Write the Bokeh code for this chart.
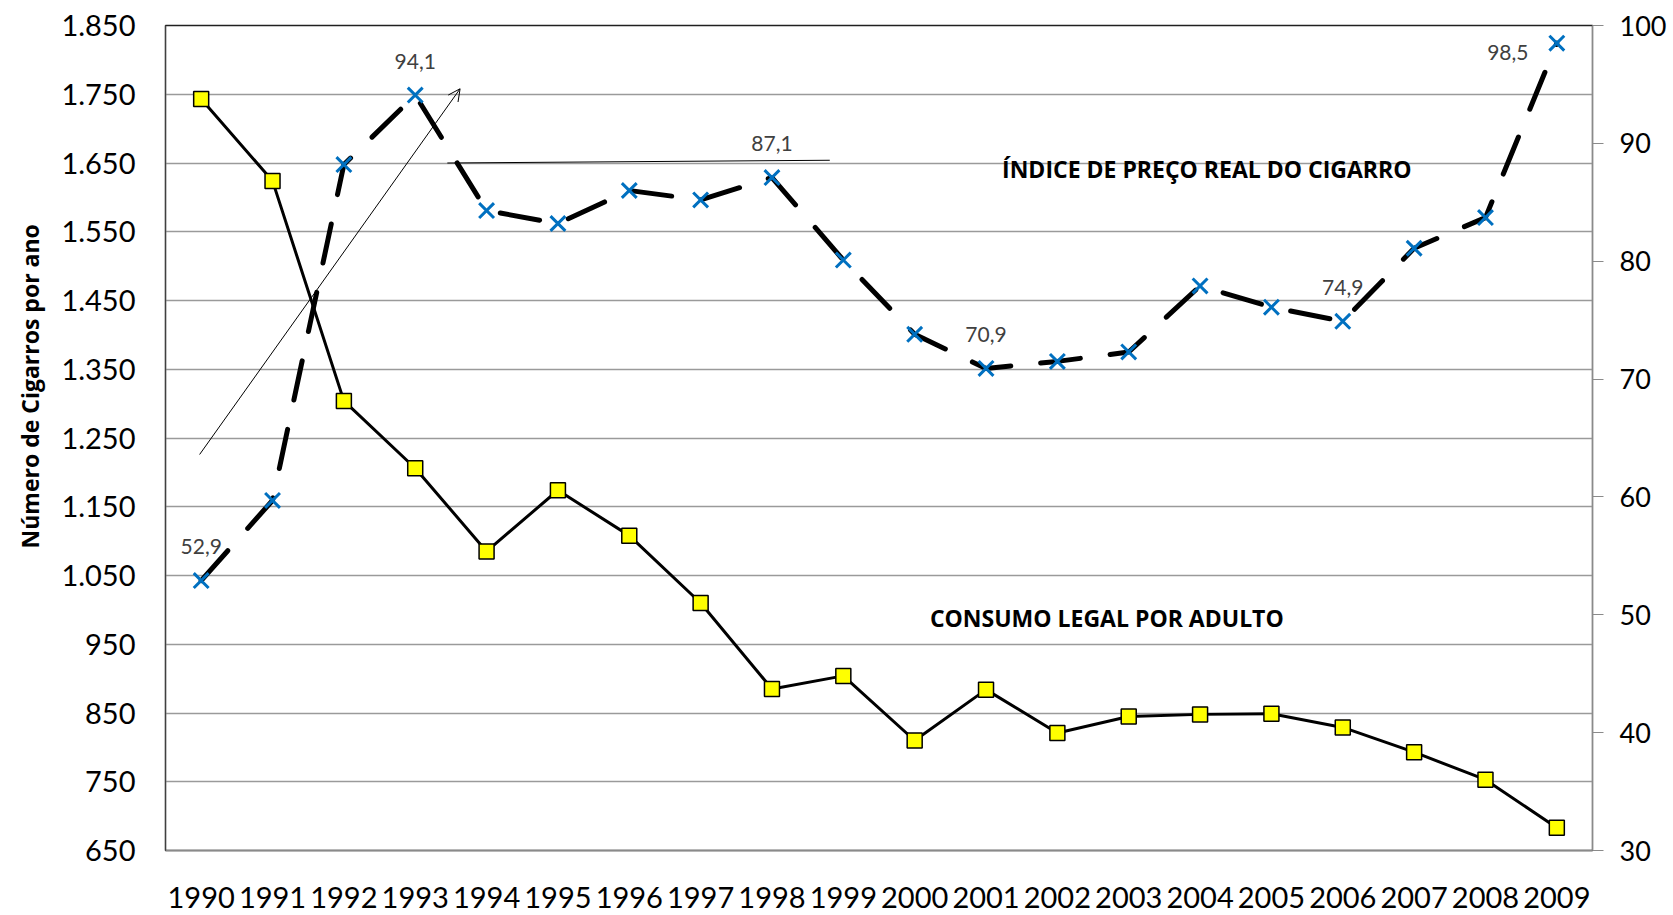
from bokeh.plotting import figure
from bokeh.models import Range1d, LinearAxis, FixedTicker, ColumnDataSource, Label, Arrow, OpenHead, Title
from bokeh.core.properties import value
from bokeh.embed import file_html
from bokeh.resources import INLINE

# ---------------- data ----------------
years = ["1990", "1991", "1992", "1993", "1994", "1995", "1996", "1997", "1998", "1999",
         "2000", "2001", "2002", "2003", "2004", "2005", "2006", "2007", "2008", "2009"]
consumo = [1743, 1624, 1304, 1206, 1085, 1174, 1108, 1010, 885, 904,
           810, 884, 821, 845, 848, 849, 829, 793, 753, 683]
preco = [52.9, 59.7, 88.2, 94.1, 84.3, 83.2, 86.0, 85.2, 87.1, 80.1,
         73.8, 70.9, 71.5, 72.3, 77.9, 76.1, 74.9, 81.1, 83.7, 98.5]
left_ticks = [650, 750, 850, 950, 1050, 1150, 1250, 1350, 1450, 1550, 1650, 1750, 1850]
left_tick_labels = ["650", "750", "850", "950", "1.050", "1.150", "1.250", "1.350",
                    "1.450", "1.550", "1.650", "1.750", "1.850"]
right_ticks = [30, 40, 50, 60, 70, 80, 90, 100]
labelled_years = ["1990", "1993", "1998", "2001", "2006", "2009"]
y_title = "Número de Cigarros por ano"
label_preco = "ÍNDICE DE PREÇO REAL DO CIGARRO"
label_consumo = "CONSUMO LEGAL POR ADULTO"

# ---------------- figure ----------------
xs = [i + 0.5 for i in range(len(years))]

p = figure(width=1673, height=915, output_backend="svg", toolbar_location=None,
           x_range=Range1d(0, len(years)), y_range=Range1d(650, 1850),
           min_border_left=165, min_border_right=81, min_border_top=25, min_border_bottom=65,
           background_fill_color="white", border_fill_color="white")
p.extra_y_ranges = {"price": Range1d(30, 100)}
p.outline_line_color = "#202020"
p.outline_line_width = 1.3

TICK_FONT = "Lato"

# x axis
xa = p.xaxis[0]
xa.ticker = FixedTicker(ticks=xs)
xa.major_label_overrides = {x: y for x, y in zip(xs, years)}
xa.major_tick_line_color = None
xa.minor_tick_line_color = None
xa.axis_line_color = "#8a8a8a"
xa.axis_line_width = 1.5
xa.major_label_text_font = TICK_FONT
xa.major_label_text_font_size = "29px"
xa.major_label_text_color = "black"
xa.major_label_standoff = 30

# left axis
ya = p.yaxis[0]
ya.ticker = FixedTicker(ticks=left_ticks)
ya.major_label_overrides = {t: s for t, s in zip(left_ticks, left_tick_labels)}
ya.major_tick_line_color = None
ya.minor_tick_line_color = None
ya.axis_line_color = "#404040"
ya.axis_line_width = 1.3
ya.major_label_text_font = TICK_FONT
ya.major_label_text_font_size = "29px"
ya.major_label_text_color = "black"
ya.major_label_standoff = 24

# right axis
ra = LinearAxis(y_range_name="price", ticker=FixedTicker(ticks=right_ticks))
ra.axis_line_color = "#8a8a8a"
ra.axis_line_width = 1.3
ra.major_tick_line_color = "#8a8a8a"
ra.major_tick_out = 11
ra.major_tick_in = 0
ra.minor_tick_line_color = None
ra.major_label_text_font = TICK_FONT
ra.major_label_text_font_size = "27px"
ra.major_label_text_color = "black"
ra.major_label_standoff = 16
p.add_layout(ra, "right")

p.xgrid.visible = False
p.ygrid.ticker = FixedTicker(ticks=left_ticks)
p.ygrid.grid_line_color = "#9a9a9a"
p.ygrid.grid_line_width = 1.3

# y axis title (vertical, left side)
p.add_layout(Title(text=y_title, align="left", offset=302, vertical_align="top",
                   standoff=22, text_font="Open Sans", text_font_style="bold",
                   text_font_size="23px", text_color="black"), "left")

# ---------------- series ----------------
p.line(xs, preco, y_range_name="price", line_color="black", line_width=5,
       line_dash="40 30", line_cap="round")
p.line(xs, consumo, line_color="black", line_width=3)
p.scatter(xs, consumo, marker="square", size=15, fill_color="#FFFF00",
          line_color="black", line_width=1.5)
p.scatter(xs, preco, marker="x", size=21, line_color="#0070C0", line_width=3,
          y_range_name="price")

# data labels
lab_x, lab_y, lab_t, lab_dx, lab_dy = [], [], [], [], []
for yr in labelled_years:
    i = years.index(yr)
    lab_x.append(xs[i])
    lab_y.append(preco[i])
    lab_t.append(f"{preco[i]:.1f}".replace(".", ","))
    if yr == "2009":
        lab_dx.append(-49)
        lab_dy.append(9)
    else:
        lab_dx.append(0)
        lab_dy.append(-34)
src = ColumnDataSource(dict(x=lab_x, y=lab_y, t=lab_t, dx=lab_dx, dy=lab_dy))
p.text(x="x", y="y", text="t", x_offset="dx", y_offset="dy", source=src,
       y_range_name="price", text_font=value(TICK_FONT), text_font_size="21px",
       text_color="#404040", text_align="center", text_baseline="middle")

# ---------------- annotations ----------------
ARROW_START = (0.478, 1226)
ARROW_END = (4.129, 1758)
p.add_layout(Arrow(x_start=ARROW_START[0], y_start=ARROW_START[1],
                   x_end=ARROW_END[0], y_end=ARROW_END[1],
                   line_color="black", line_width=1,
                   end=OpenHead(size=12, line_width=1, line_color="black")))

HLINE = (3.95, 1650, 9.31, 1654)
p.segment(x0=[HLINE[0]], y0=[HLINE[1]], x1=[HLINE[2]], y1=[HLINE[3]],
          line_color="black", line_width=1)

p.add_layout(Label(x=14.594, y=1642, text=label_preco, text_align="center",
                   text_baseline="middle", text_font="Open Sans", text_font_style="bold",
                   text_font_size="23px", text_color="black"))
p.add_layout(Label(x=13.193, y=988, text=label_consumo, text_align="center",
                   text_baseline="middle", text_font="Open Sans", text_font_style="bold",
                   text_font_size="23px", text_color="black"))

open("out.html", "w").write(file_html(p, INLINE))
